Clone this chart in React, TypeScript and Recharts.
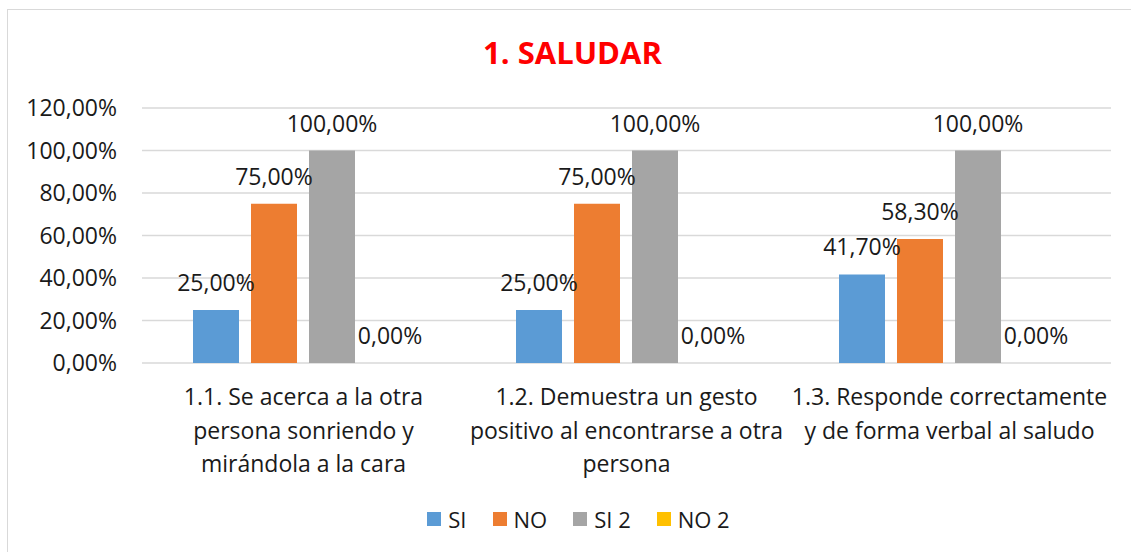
import React from 'react';
import { BarChart, Bar, XAxis, YAxis, CartesianGrid, LabelList } from 'recharts';

const categories = [
    ['1.1. Se acerca a la otra', 'persona sonriendo y', 'mirándola a la cara'],
    ['1.2. Demuestra un gesto', 'positivo al encontrarse a otra', 'persona'],
    ['1.3. Responde correctamente', 'y de forma verbal al saludo'],
];
const si = [0.25, 0.25, 0.417];
const no = [0.75, 0.75, 0.583];
const si2 = [1, 1, 1];
const no2 = [0, 0, 0];
const yTicks = [0, 0.2, 0.4, 0.6, 0.8, 1, 1.2];

const series = [
    { key: 'si', name: 'SI', color: '#5B9BD5' },
    { key: 'no', name: 'NO', color: '#ED7D31' },
    { key: 'si2', name: 'SI 2', color: '#A5A5A5' },
    { key: 'no2', name: 'NO 2', color: '#FFC000' },
];

const FONT = '"Open Sans", sans-serif';
const TEXT = '#1a1a1a';

const pct = (v: number) => (v * 100).toFixed(2).replace('.', ',') + '%';

const data = categories.map((lines, i) => ({
    name: i,
    si: si[i],
    no: no[i],
    si2: si2[i],
    no2: no2[i],
}));

const CategoryTick: React.FC<any> = ({ x, y, payload }) => {
    const lines = categories[payload.value] || [];
    return (
        <text x={x} y={y} textAnchor="middle" fill={TEXT} fontSize={23} fontFamily={FONT}>
            {lines.map((l, i) => (
                <tspan key={i} x={x} y={y + 34 + i * 33.5}>{l}</tspan>
            ))}
        </text>
    );
};

const App: React.FC = () => {
    return (
        <div style={{ position: 'absolute', left: 0, top: 0, width: 1131, height: 552, background: '#fff', fontFamily: FONT }}>
            <div style={{ position: 'absolute', left: 7, top: 9, right: -2, bottom: -2, borderLeft: '1px solid #D9D9D9', borderTop: '1px solid #D9D9D9' }} />
            <div style={{ position: 'absolute', left: 0, width: 1145, top: 30, textAlign: 'center', color: '#FF0000', fontWeight: 700, fontSize: 31, lineHeight: '44px' }}>
                1. SALUDAR
            </div>
            <div style={{ position: 'absolute', left: 0, top: 0 }}>
                <BarChart width={1131} height={552} data={data} margin={{ top: 108, right: 20, left: 8, bottom: 69 }}
                    barCategoryGap={51} barGap={12}>
                    <CartesianGrid vertical={false} stroke="#D9D9D9" strokeWidth={1.5} />
                    <XAxis dataKey="name" axisLine={false} tickLine={false} height={120} tick={<CategoryTick />} interval={0} />
                    <YAxis width={134} domain={[0, 1.2]} ticks={yTicks} axisLine={false} tickLine={false} tickSize={0} tickMargin={25}
                        tickFormatter={pct} tick={{ fill: TEXT, fontSize: 23, fontFamily: FONT }} />
                    {series.map(s => (
                        <Bar key={s.key} dataKey={s.key} fill={s.color} isAnimationActive={false} minPointSize={0.01}>
                            <LabelList dataKey={s.key} position="top" offset={19} formatter={(v: any) => pct(Number(v))}
                                fill={TEXT} fontSize={23} fontFamily={FONT} />
                        </Bar>
                    ))}
                </BarChart>
            </div>
            <div style={{ position: 'absolute', left: 0, width: 1157, top: 504, display: 'flex', justifyContent: 'center', gap: 26, fontSize: 22, color: TEXT }}>
                {series.map(s => (
                    <div key={s.key} style={{ display: 'flex', alignItems: 'center', gap: 7 }}>
                        <span style={{ width: 14, height: 14, background: s.color, display: 'inline-block' }} />
                        <span>{s.name}</span>
                    </div>
                ))}
            </div>
        </div>
    );
};

export default App;
